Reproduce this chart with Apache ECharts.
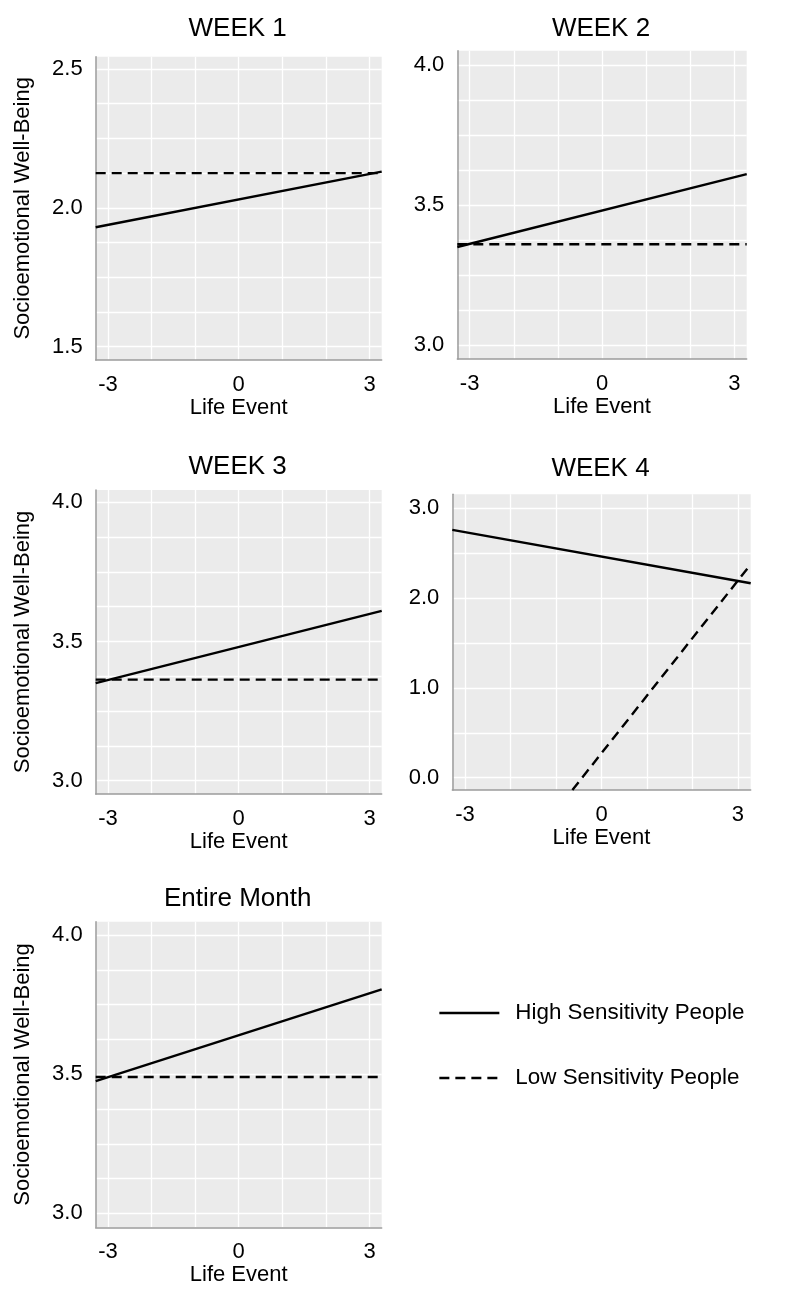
<!DOCTYPE html>
<html>
<head>
<meta charset="utf-8">
<script src="https://cdn.jsdelivr.net/npm/echarts@6/dist/echarts.min.js"></script>
<style>
  html, body { margin: 0; padding: 0; background: #fff; }
  #chart { width: 794px; height: 1301px; }
</style>
</head>
<body>
<div id="chart"></div>
<script>
const panelTitles = ['WEEK 1', 'WEEK 2', 'WEEK 3', 'WEEK 4', 'Entire Month'];
const seriesNames = ['High Sensitivity People', 'Low Sensitivity People'];

// x axis (Life Event)
const xMin = -3.28;
const xMax = 3.28;
const xGridValues = [-3, -2, -1, 0, 1, 2, 3];
const xLabelValues = [-3, 0, 3];

// y axis extents / ticks per panel
const yMin = [1.452, 2.95, 2.952, -0.137, 2.95];
const yMax = [2.544, 4.051, 4.044, 3.156, 4.048];
const yGridValues = [
    [1.5, 1.625, 1.75, 1.875, 2.0, 2.125, 2.25, 2.375, 2.5],
    [3.0, 3.125, 3.25, 3.375, 3.5, 3.625, 3.75, 3.875, 4.0],
    [3.0, 3.125, 3.25, 3.375, 3.5, 3.625, 3.75, 3.875, 4.0],
    [0, 0.5, 1.0, 1.5, 2.0, 2.5, 3.0],
    [3.0, 3.125, 3.25, 3.375, 3.5, 3.625, 3.75, 3.875, 4.0]
];
const yLabelValues = [
    [1.5, 2.0, 2.5],
    [3.0, 3.5, 4.0],
    [3.0, 3.5, 4.0],
    [0, 1.0, 2.0, 3.0],
    [3.0, 3.5, 4.0]
];

// simple slopes: line endpoints
const highX = [[-3.28, 3.28], [-3.28, 3.28], [-3.28, 3.28], [-3.28, 3.28], [-3.28, 3.28]];
const highY = [[1.93, 2.13], [3.35, 3.61], [3.35, 3.61], [2.76, 2.165], [3.475, 3.805]];
const lowX = [[-3.28, 3.28], [-3.28, 3.28], [-3.28, 3.28], [-0.64, 3.28], [-3.28, 3.28]];
const lowY = [[2.125, 2.125], [3.36, 3.36], [3.363, 3.363], [-0.137, 2.375], [3.49, 3.49]];

const FONT = "'Liberation Sans', Arial, sans-serif";
const TEXT = '#000';

// panel boxes [left, top, width, height] and which ones carry the y name
const boxes = [
    [95.7, 56.7, 286, 303.3],
    [457.3, 50.7, 289.4, 308.3],
    [95.7, 490, 286, 304],
    [452.3, 494.3, 298.4, 295.7],
    [95.7, 921.7, 286, 305.6]
];
const showYName = [true, false, true, false, true];
const titleY = [29, 29, 467, 469, 899];

const chart = echarts.init(document.getElementById('chart'));

const grids = [], xAxes = [], yAxes = [], series = [], graphics = [];

boxes.forEach((b, i) => {
    grids.push({
        left: b[0], top: b[1], width: b[2], height: b[3],
        show: true, backgroundColor: '#ebebeb', borderWidth: 0
    });
    xAxes.push({
        type: 'value', gridIndex: i, min: xMin, max: xMax,
        name: 'Life Event', nameLocation: 'middle', nameGap: 35,
        nameTextStyle: { fontFamily: FONT, fontSize: 22, color: TEXT },
        axisLine: { onZero: false, lineStyle: { color: '#9c9c9c', width: 1.5 } },
        axisTick: { show: false, customValues: xGridValues },
        axisLabel: {
            customValues: xLabelValues, margin: 14,
            fontFamily: FONT, fontSize: 22, color: TEXT
        },
        splitLine: { show: true, lineStyle: { color: '#ffffff', width: 1.3 } }
    });
    yAxes.push({
        type: 'value', gridIndex: i, min: yMin[i], max: yMax[i],
        name: showYName[i] ? 'Socioemotional Well-Being' : '',
        nameLocation: 'middle', nameGap: 62,
        nameTextStyle: { fontFamily: FONT, fontSize: 22, color: TEXT },
        axisLine: { show: true, onZero: false, lineStyle: { color: '#9c9c9c', width: 1.5 } },
        axisTick: { show: false, customValues: yGridValues[i] },
        axisLabel: {
            customValues: yLabelValues[i], margin: 13,
            fontFamily: FONT, fontSize: 22, color: TEXT,
            formatter: v => Number(v).toFixed(1)
        },
        splitLine: { show: true, lineStyle: { color: '#ffffff', width: 1.3 } }
    });
    series.push({
        name: seriesNames[0], type: 'line', xAxisIndex: i, yAxisIndex: i,
        symbol: 'none', silent: true,
        lineStyle: { color: '#000', width: 2.4, type: 'solid' },
        itemStyle: { color: '#000' },
        data: highX[i].map((x, k) => [x, highY[i][k]])
    });
    series.push({
        name: seriesNames[1], type: 'line', xAxisIndex: i, yAxisIndex: i,
        symbol: 'none', silent: true,
        lineStyle: { color: '#000', width: 2.4, type: [10, 6] },
        itemStyle: { color: '#000' },
        data: lowX[i].map((x, k) => [x, lowY[i][k]])
    });
    graphics.push({
        type: 'text', x: b[0] + b[2] / 2 - 1, y: titleY[i],
        style: {
            text: panelTitles[i], fontFamily: FONT, fontSize: 26, fill: TEXT,
            textAlign: 'center', textVerticalAlign: 'middle'
        }
    });
});

chart.setOption({
    animation: false,
    grid: grids,
    xAxis: xAxes,
    yAxis: yAxes,
    series: series,
    graphic: graphics,
    legend: {
        data: seriesNames,
        orient: 'vertical',
        left: 438, top: 1002, padding: 0,
        itemWidth: 60, itemHeight: 14, itemGap: 43,
        selectedMode: false,
        itemStyle: { color: 'rgba(0,0,0,0)', borderWidth: 0 },
        lineStyle: { width: 2.7 },
        textStyle: {
            fontFamily: FONT, fontSize: 22.4, color: TEXT,
            lineHeight: 22, padding: [0, 0, 0, 11]
        }
    }
});
</script>
</body>
</html>
